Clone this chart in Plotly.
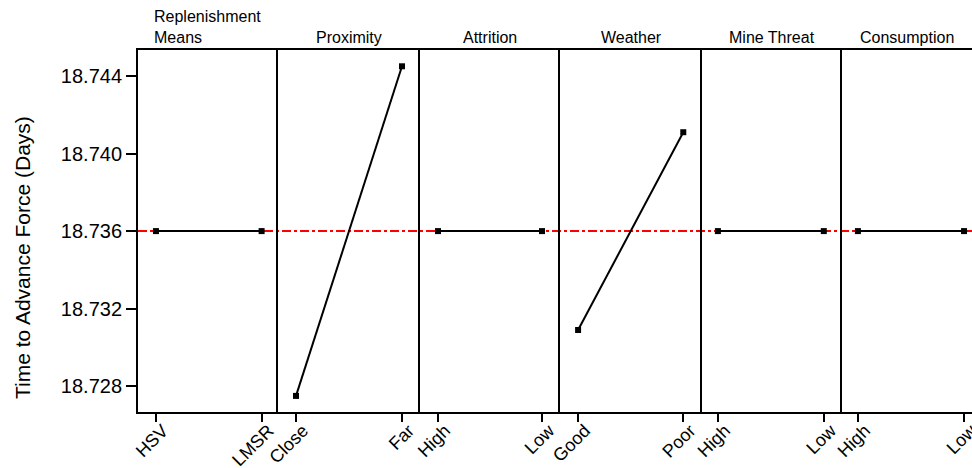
import plotly.graph_objects as go

# Main-effects data: mean time to advance force (days) per factor level
factors = ["Replenishment<br>Means", "Proximity", "Attrition", "Weather", "Mine Threat", "Consumption"]
levels = [["HSV", "LMSR"], ["Close", "Far"], ["High", "Low"], ["Good", "Poor"], ["High", "Low"], ["High", "Low"]]
replenishment_means = [18.736, 18.736]
proximity = [18.7275, 18.7445]
attrition = [18.736, 18.736]
weather = [18.7309, 18.7411]
mine_threat = [18.736, 18.736]
consumption = [18.736, 18.736]
grand_mean = 18.736
y_ticks = [18.728, 18.732, 18.736, 18.740, 18.744]
y_title = "Time to Advance Force (Days)"

series = [replenishment_means, proximity, attrition, weather, mine_threat, consumption]

W, H = 972, 468
ML, MR, MT, MB = 138, 0, 50, 56
edges_px = [138, 278, 420, 560, 702, 842, 972]
plot_w = W - ML - MR
plot_h = H - MT - MB
domains = [((edges_px[i] - ML) / plot_w, (edges_px[i + 1] - ML) / plot_w) for i in range(6)]
x_ranges = [[-0.17, 1.155], [-0.17, 1.17], [-0.173, 1.173], [-0.172, 1.178], [-0.15, 1.172], [-0.15, 1.075]]

FONT = "Liberation Sans, Arial, sans-serif"
fig = go.Figure()

for i, (lv, vals) in enumerate(zip(levels, series)):
    sfx = "" if i == 0 else str(i + 1)
    fig.add_trace(go.Scatter(
        x=lv, y=vals, xaxis="x" + sfx, yaxis="y" + sfx,
        mode="lines+markers",
        line=dict(color="black", width=2),
        marker=dict(symbol="square", size=6, color="black"),
        showlegend=False, hoverinfo="x+y",
    ))
    fig.layout["xaxis" + sfx] = dict(
        domain=list(domains[i]), anchor="y" + sfx,
        type="category", categoryorder="array", categoryarray=lv,
        range=x_ranges[i], automargin=False,
        showline=True, linecolor="black", linewidth=2, mirror=True,
        ticks="outside", ticklen=8, tickwidth=2, tickcolor="black",
        tickangle=-45, tickfont=dict(family=FONT, size=18, color="black"),
        ticklabelstandoff=-9, ticklabelshift=7,
        showgrid=False, zeroline=False, fixedrange=True,
    )
    yax = dict(
        domain=[0, 1], anchor="x" + sfx,
        range=[18.72667, 18.74534], automargin=False,
        showline=True, linecolor="black", linewidth=2,
        showgrid=False, zeroline=False, fixedrange=True,
    )
    if i == 0:
        yax.update(
            tickvals=y_ticks, tickformat=".3f",
            ticks="outside", ticklen=10, tickwidth=2, tickcolor="black",
            tickfont=dict(family=FONT, size=20, color="black"),
        )
    else:
        yax.update(matches="y", showticklabels=False, ticks="")
    fig.layout["yaxis" + sfx] = yax

    # panel heading
    if i == 0:
        fig.add_annotation(
            text=factors[i], xref="paper", yref="paper",
            x=(152 - ML) / plot_w, y=1, xanchor="left", yanchor="bottom", yshift=2,
            align="left", showarrow=False,
            font=dict(family=FONT, size=16, color="black"),
        )
    else:
        fig.add_annotation(
            text=factors[i], xref="paper", yref="paper",
            x=sum(domains[i]) / 2, y=1, xanchor="center", yanchor="bottom", yshift=2,
            showarrow=False,
            font=dict(family=FONT, size=16, color="black"),
        )

# vertical axis title
fig.add_annotation(
    text=y_title, xref="paper", yref="paper",
    x=(22 - ML) / plot_w, y=(H - MB - 258) / plot_h,
    xanchor="center", yanchor="middle", textangle=-90, showarrow=False,
    font=dict(family=FONT, size=21, color="black"),
)

# grand mean reference line across all panels
fig.add_shape(type="line", xref="paper", yref="y", x0=0, x1=1, y0=grand_mean, y1=grand_mean,
              line=dict(color="red", width=2, dash="dashdot"), layer="below")

fig.update_layout(
    width=W, height=H,
    margin=dict(l=ML, r=MR, t=MT, b=MB),
    paper_bgcolor="white", plot_bgcolor="white",
    font=dict(family=FONT, color="black"),
)

fig.write_html("out.html")
